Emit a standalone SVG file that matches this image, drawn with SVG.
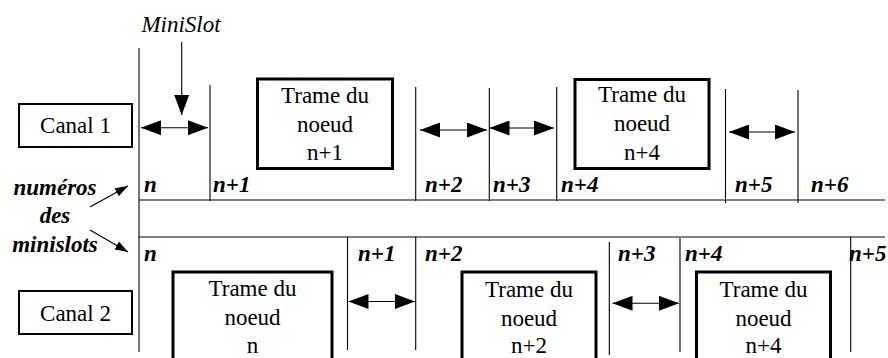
<svg xmlns="http://www.w3.org/2000/svg" width="888" height="358" viewBox="0 0 888 358">
<style>
  .bg { fill: #ffffff; }
  .t { font-family: "Liberation Serif", "Times New Roman", serif; font-size: 23px; fill: #000; }
  .c { text-anchor: middle; }
  .bi { font-style: italic; font-weight: bold; }
  .it { font-style: italic; }
  .thin { stroke: #000; stroke-width: 1.1; fill: none; }
  .box { fill: #fff; stroke: #000; stroke-width: 2; }
  .frame { fill: #fff; stroke: #000; stroke-width: 3; }
  .arr { stroke: #000; stroke-width: 1.1; fill: none; marker-start: url(#head); marker-end: url(#head); }
  .arr1 { stroke: #000; stroke-width: 1.1; fill: none; marker-end: url(#head); }
  .ptr { stroke: #000; stroke-width: 1.1; fill: none; marker-end: url(#small); }
</style>
<defs>
  <marker id="head" markerUnits="userSpaceOnUse" markerWidth="20" markerHeight="15" refX="20" refY="7.5" orient="auto-start-reverse">
    <path d="M0,0 L20,7.5 L0,15 z" fill="#000"/>
  </marker>
  <marker id="small" markerUnits="userSpaceOnUse" markerWidth="13" markerHeight="9" refX="13" refY="4.5" orient="auto">
    <path d="M0,0 L13,4.5 L0,9 z" fill="#000"/>
  </marker>
</defs>
<rect class="bg" x="0" y="0" width="888" height="358"/>

<g id="connectors">
  <line class="thin" x1="139" y1="200" x2="885" y2="200"/>
  <line class="thin" x1="139" y1="237" x2="885" y2="237"/>
  <line class="thin" x1="139" y1="48" x2="139" y2="352"/>
  <line class="thin" x1="210" y1="85" x2="210" y2="201"/>
  <line class="thin" x1="415.7" y1="87" x2="415.7" y2="201"/>
  <line class="thin" x1="489.3" y1="88" x2="489.3" y2="201"/>
  <line class="thin" x1="556.7" y1="87" x2="556.7" y2="201"/>
  <line class="thin" x1="725.5" y1="89" x2="725.5" y2="203"/>
  <line class="thin" x1="798" y1="90" x2="798" y2="203"/>
  <line class="thin" x1="347.5" y1="237" x2="347.5" y2="350"/>
  <line class="thin" x1="415.7" y1="237" x2="415.7" y2="350"/>
  <line class="thin" x1="609.3" y1="242" x2="609.3" y2="355"/>
  <line class="thin" x1="680" y1="238" x2="680" y2="352"/>
  <line class="thin" x1="850.7" y1="237" x2="850.7" y2="352"/>
  <line class="arr" x1="141" y1="127.7" x2="208" y2="127.7"/>
  <line class="arr" x1="420" y1="130" x2="487" y2="130"/>
  <line class="arr" x1="489.5" y1="128" x2="554" y2="128"/>
  <line class="arr" x1="729" y1="132" x2="795" y2="132"/>
  <line class="arr" x1="348.5" y1="301.5" x2="415" y2="301.5"/>
  <line class="arr" x1="612.5" y1="303.3" x2="679" y2="303.3"/>
  <line class="arr1" x1="181.7" y1="42" x2="181.7" y2="115"/>
  <line class="ptr" x1="90" y1="207" x2="128" y2="186"/>
  <line class="ptr" x1="90" y1="230" x2="128" y2="252"/>
</g>

<g id="minislot-label">
  <text class="t it c" x="181" y="31.7">MiniSlot</text>
</g>

<g id="numeros-label">
  <text class="t bi c" x="55" y="195">numéros</text>
  <text class="t bi c" x="55" y="223">des</text>
  <text class="t bi c" x="55" y="251.7">minislots</text>
</g>

<g id="canal1">
  <rect class="box" x="19" y="104" width="113" height="43"/>
  <text class="t c" x="75.5" y="133.3">Canal 1</text>
</g>

<g id="canal2">
  <rect class="box" x="19" y="291" width="113" height="43"/>
  <text class="t c" x="75.5" y="321">Canal 2</text>
</g>

<g id="trame-n1">
  <rect class="frame" x="257.5" y="79" width="135" height="89.5"/>
  <text class="t c" x="325" y="103">Trame du</text>
  <text class="t c" x="325" y="131.5">noeud</text>
  <text class="t c" x="325" y="160">n+1</text>
</g>

<g id="trame-n4-c1">
  <rect class="frame" x="575" y="79.5" width="134" height="89"/>
  <text class="t c" x="642" y="102">Trame du</text>
  <text class="t c" x="642" y="130.5">noeud</text>
  <text class="t c" x="642" y="159.5">n+4</text>
</g>

<g id="trame-n">
  <rect class="frame" x="173" y="272" width="159" height="100"/>
  <text class="t c" x="252.5" y="295.5">Trame du</text>
  <text class="t c" x="252.5" y="324.5">noeud</text>
  <text class="t c" x="252.5" y="352.5">n</text>
</g>

<g id="trame-n2">
  <rect class="frame" x="462" y="272" width="134" height="100"/>
  <text class="t c" x="529" y="296.5">Trame du</text>
  <text class="t c" x="529" y="325.5">noeud</text>
  <text class="t c" x="529" y="353">n+2</text>
</g>

<g id="trame-n4-c2">
  <rect class="frame" x="696.5" y="272" width="134" height="100"/>
  <text class="t c" x="763.5" y="296.5">Trame du</text>
  <text class="t c" x="763.5" y="325.5">noeud</text>
  <text class="t c" x="763.5" y="353">n+4</text>
</g>

<g id="slot-numbers-c1">
  <text class="t bi" x="144" y="192">n</text>
  <text class="t bi" x="213" y="192">n+1</text>
  <text class="t bi" x="425" y="192">n+2</text>
  <text class="t bi" x="493" y="192">n+3</text>
  <text class="t bi" x="561" y="192">n+4</text>
  <text class="t bi" x="735" y="192">n+5</text>
  <text class="t bi" x="811" y="192">n+6</text>
</g>

<g id="slot-numbers-c2">
  <text class="t bi" x="144" y="261">n</text>
  <text class="t bi" x="358" y="261">n+1</text>
  <text class="t bi" x="425" y="261">n+2</text>
  <text class="t bi" x="618" y="261">n+3</text>
  <text class="t bi" x="685" y="261">n+4</text>
  <text class="t bi" x="849" y="261">n+5</text>
</g>
</svg>
